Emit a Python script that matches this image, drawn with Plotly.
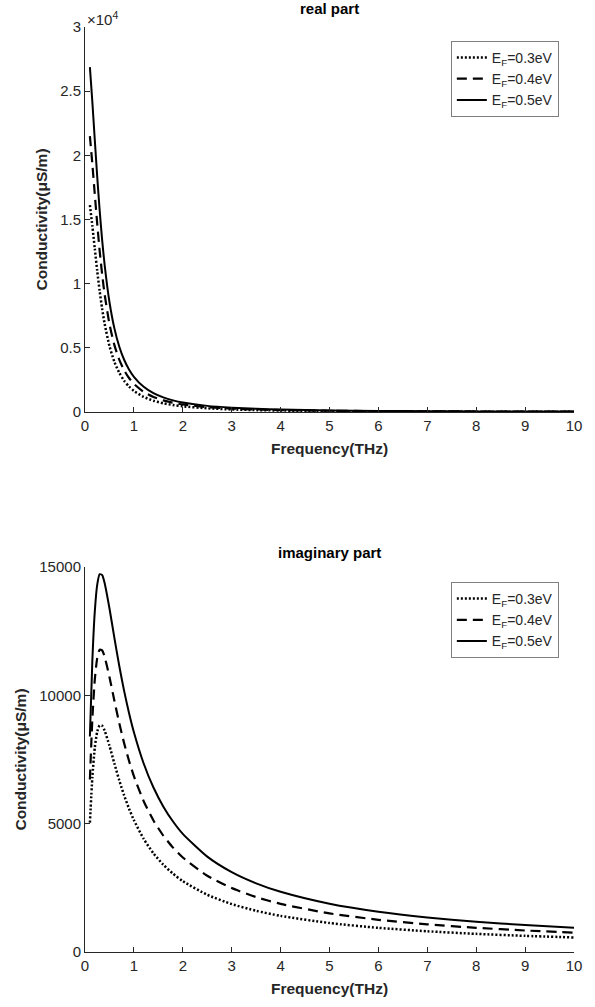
import plotly.graph_objects as go
from plotly.subplots import make_subplots

freq = [0.1, 0.15, 0.2, 0.25, 0.3, 0.35, 0.4, 0.5, 0.6, 0.7, 0.8, 0.9, 1.0, 1.2, 1.4,
        1.6, 1.8, 2.0, 2.5, 3.0, 3.5, 4.0, 5.0, 6.0, 7.0, 8.0, 9.0, 10.0]

real_03 = [16125, 14512, 12728, 10991, 9420, 8059, 6907, 5143, 3920, 3059, 2441, 1987, 1644, 1175,
           879, 681, 542, 442, 286, 199, 147, 113, 72, 50, 37, 28, 22, 18]
real_04 = [21500, 19349, 16970, 14655, 12560, 10746, 9210, 6858, 5226, 4079, 3255, 2649, 2192, 1567,
           1172, 908, 723, 589, 381, 266, 196, 150, 96, 67, 50, 38, 30, 24]
real_05 = [26875, 24186, 21213, 18319, 15700, 13432, 11512, 8572, 6533, 5099, 4069, 3311, 2740, 1959,
           1465, 1135, 904, 736, 476, 332, 245, 188, 120, 84, 62, 47, 37, 30]

imag_03 = [5039, 6802, 7955, 8587, 8831, 8815, 8634, 8036, 7349, 6692, 6103, 5587, 5138, 4407,
           3845, 3404, 3050, 2761, 2229, 1867, 1605, 1407, 1128, 941, 808, 707, 629, 566]
imag_04 = [6718, 9070, 10606, 11450, 11775, 11753, 11512, 10715, 9799, 8923, 8138, 7450, 6850, 5876,
           5126, 4538, 4067, 3682, 2972, 2489, 2140, 1876, 1504, 1255, 1077, 942, 838, 754]
imag_05 = [8398, 11337, 13258, 14312, 14719, 14691, 14390, 13394, 12249, 11154, 10172, 9312, 8563, 7345,
           6408, 5673, 5084, 4602, 3715, 3111, 2675, 2345, 1880, 1569, 1346, 1178, 1048, 943]

labels = ["E<sub>F</sub>=0.3eV", "E<sub>F</sub>=0.4eV", "E<sub>F</sub>=0.5eV"]
dashes = ["2px,2px", "10px,6px", "solid"]
widths = [2.5, 2.2, 2]

x_ticks = list(range(0, 11))
top_tickvals = [0, 5000, 10000, 15000, 20000, 25000, 30000]
top_ticktext = ["0", "0.5", "1", "1.5", "2", "2.5", "3"]
bot_tickvals = [0, 5000, 10000, 15000]
bot_ticktext = ["0", "5000", "10000", "15000"]

AX = "#262626"
FONT = "Liberation Sans, Arial, sans-serif"

fig = make_subplots(rows=2, cols=1, vertical_spacing=0.1676)

for i, ys in enumerate([real_03, real_04, real_05]):
    fig.add_trace(go.Scatter(x=freq, y=ys, mode="lines", name=labels[i], legend="legend",
                             line=dict(color="black", width=widths[i], dash=dashes[i], shape="spline", smoothing=0.6)),
                  row=1, col=1)
for i, ys in enumerate([imag_03, imag_04, imag_05]):
    fig.add_trace(go.Scatter(x=freq, y=ys, mode="lines", name=labels[i], legend="legend2",
                             line=dict(color="black", width=widths[i], dash=dashes[i], shape="spline", smoothing=0.6)),
                  row=2, col=1)

axis_common = dict(showline=True, linecolor=AX, linewidth=1, ticks="inside", ticklen=5,
                   tickcolor=AX, tickfont=dict(family=FONT, size=15, color=AX),
                   showgrid=False, zeroline=False, mirror=False)

xtitle = dict(text="<b>Frequency(THz)</b>", font=dict(family=FONT, size=15.5, color=AX), standoff=10)
fig.update_xaxes(range=[0, 10], tickvals=x_ticks, title=xtitle, **axis_common)

fig.update_yaxes(range=[0, 30000], tickvals=top_tickvals, ticktext=top_ticktext, row=1, col=1, **axis_common)
fig.update_yaxes(range=[0, 15000], tickvals=bot_tickvals, ticktext=bot_ticktext, row=2, col=1, **axis_common)
fig.update_yaxes(title=dict(text="<b>Conductivity(μS/m)</b>", font=dict(family=FONT, size=15.5, color=AX), standoff=8))

leg = dict(xanchor="right", yanchor="top", bgcolor="white",
           bordercolor="#7f7f7f", borderwidth=1, font=dict(family=FONT, size=14, color=AX),
           tracegroupgap=0)

fig.update_layout(
    width=595, height=1007,
    margin=dict(l=85, r=21, t=27, b=55),
    paper_bgcolor="white", plot_bgcolor="white",
    font=dict(family=FONT, color=AX),
    legend=dict(x=0.969, y=0.985, **leg),
    legend2=dict(x=0.969, y=0.40, **leg),
    annotations=[
        dict(text="<b>real part</b>", x=0.5, y=1.0, xref="paper", yref="paper", xanchor="center",
             yanchor="bottom", yshift=8, showarrow=False, font=dict(family=FONT, size=15, color="black")),
        dict(text="<b>imaginary part</b>", x=0.5, y=0.4173, xref="paper", yref="paper", xanchor="center",
             yanchor="bottom", yshift=3, showarrow=False, font=dict(family=FONT, size=15, color="black")),
        dict(text="×10<sup>4</sup>", x=0, y=1.0, xref="paper", yref="paper", xanchor="left",
             yanchor="bottom", yshift=-3, showarrow=False, font=dict(family=FONT, size=15, color=AX)),
    ],
)

fig.write_html("out.html")
